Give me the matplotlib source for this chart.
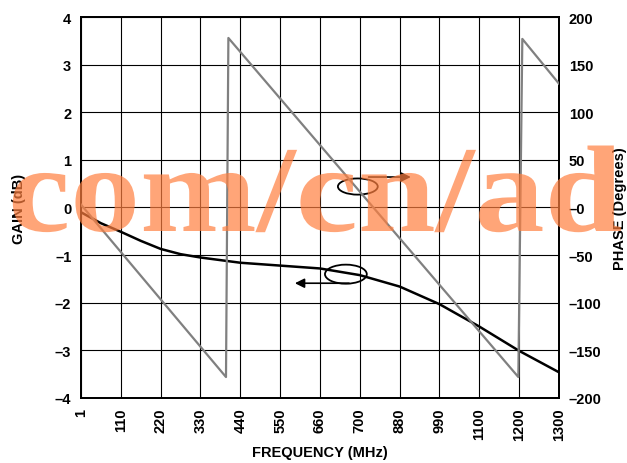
import numpy as np
import matplotlib
matplotlib.use('Agg')
import matplotlib.pyplot as plt
from matplotlib.patches import Ellipse, PathPatch
from matplotlib.textpath import TextPath
from matplotlib.font_manager import FontProperties
from matplotlib.transforms import Affine2D

plt.rcParams['font.family'] = ['Liberation Sans', 'DejaVu Sans']

# === Data (x = index of the frequency category) ===
freq_labels = ['1', '110', '220', '330', '440', '550', '660', '700',
               '880', '990', '1100', '1200', '1300']

gain_pos = [0, 0.5, 1, 1.5, 2, 2.5, 3, 4, 5, 6, 7, 8, 9, 10, 11, 12]
gain_db = [-0.1, -0.33, -0.51, -0.70, -0.87, -0.98, -1.05, -1.16, -1.22,
           -1.28, -1.42, -1.66, -2.03, -2.50, -3.01, -3.46]

phase_pos = [0, 3.64, 3.70, 10.98, 11.08, 12]
phase_deg = [3, -178, 178, -178, 177, 130]

gain_ticks = [-4, -3, -2, -1, 0, 1, 2, 3, 4]
phase_ticks = [-200, -150, -100, -50, 0, 50, 100, 150, 200]

# === Figure ===
fig = plt.figure(figsize=(6.27, 4.64), dpi=100)
ax = fig.add_axes([0.1292, 0.1401, 0.7623, 0.8211])
ax2 = ax.twinx()

ax.plot(gain_pos, gain_db, color='black', lw=1.8, zorder=4)
ax2.plot(phase_pos, phase_deg, color='#808080', lw=1.6, zorder=3)

ax.set_xlim(0, 12)
ax.set_ylim(-4, 4)
ax2.set_ylim(-200, 200)

ax.set_xticks(range(len(freq_labels)))
ax.set_xticklabels(freq_labels, rotation=90, fontweight='bold', fontsize=10.5)
ax.set_yticks(gain_ticks)
ax.set_yticklabels([str(v).replace('-', '\u2013') for v in gain_ticks],
                   fontweight='bold', fontsize=10.5)
ax2.set_yticks(phase_ticks)
ax2.set_yticklabels([('\u20130' if v == 0 else str(v).replace('-', '\u2013'))
                     for v in phase_ticks], fontweight='bold', fontsize=10.5)

ax.tick_params(length=0, pad=7)
ax2.tick_params(length=0, pad=7)
ax.grid(True, color='black', lw=0.8)

for a in (ax, ax2):
    for s in a.spines.values():
        s.set_linewidth(1.3)

ax.set_xlabel('FREQUENCY (MHz)', fontweight='bold', fontsize=10.5, labelpad=3)
ax.set_ylabel('GAIN (dB)', fontweight='bold', fontsize=10.5, labelpad=21)
ax2.set_ylabel('PHASE (Degrees)', fontweight='bold', fontsize=10.5, labelpad=8)

# curve markers: ellipse + arrow
ax.add_patch(Ellipse((6.95, 0.44), 1.0, 0.34, fill=False, ec='black', lw=1.3, zorder=5))
ax.annotate('', xy=(8.35, 0.64), xytext=(7.15, 0.64),
            arrowprops=dict(arrowstyle='-|>', color='black', lw=1.2,
                            mutation_scale=14), zorder=5)
ax.add_patch(Ellipse((6.65, -1.40), 1.05, 0.40, fill=False, ec='black', lw=1.3, zorder=5))
ax.annotate('', xy=(5.3, -1.59), xytext=(6.8, -1.59),
            arrowprops=dict(arrowstyle='-|>', color='black', lw=1.2,
                            mutation_scale=14), zorder=5)

# watermark (kept as text glyphs, slightly squashed vertically)
fp = FontProperties(family='Liberation Serif', weight='bold')
tp = TextPath((0, 0), 'com/cn/ad', size=140, prop=fp)
wm = PathPatch(tp, transform=Affine2D().scale(1.0, 0.88).translate(8, 232),
               fc='#FF7F3F', ec='none', alpha=0.7, zorder=10)
fig.add_artist(wm)

fig.savefig('out.png', dpi=100)
